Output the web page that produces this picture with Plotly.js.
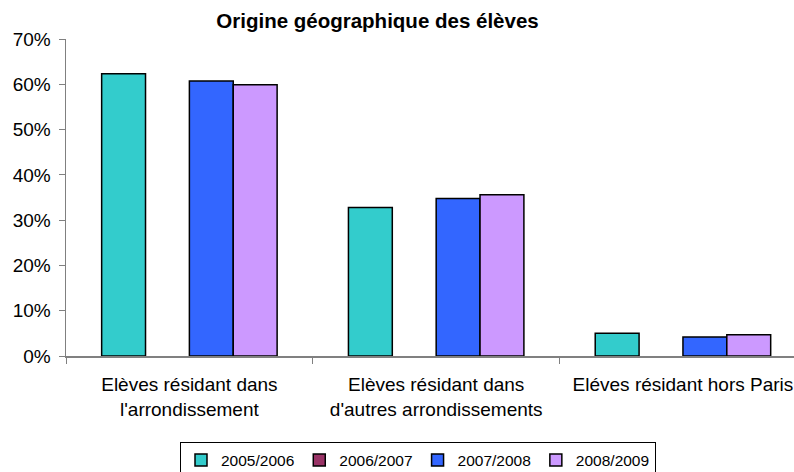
<!DOCTYPE html>
<html><head><meta charset="utf-8">
<script src="https://cdn.plot.ly/plotly-3.0.1.min.js"></script>
<style>html,body{margin:0;padding:0;background:#fff}#chart{width:794px;height:472px}</style>
</head><body><div id="chart"></div>
<script>
const categories = ["Elèves résidant dans<br>l'arrondissement", "Elèves résidant dans<br>d'autres arrondissements", "Eléves résidant hors Paris"];
const seriesNames = ["2005/2006", "2006/2007", "2007/2008", "2008/2009"];
const s2005 = [0.623, 0.328, 0.050];
const s2006 = [null, null, null];
const s2007 = [0.607, 0.348, 0.042];
const s2008 = [0.599, 0.356, 0.047];
const colors = ["#33CCCC", "#993366", "#3366FF", "#CC99FF"];
const allSeries = [s2005, s2006, s2007, s2008];

const traces = allSeries.map((vals, i) => ({
  type: 'bar', name: seriesNames[i], x: categories, y: vals,
  marker: {color: colors[i], line: {color: '#000', width: 1.5}},
  hoverinfo: 'none'
}));

const plotTop = 39, plotBottom = 356.5, plotH = plotBottom - plotTop;
const layout = {
  width: 794, height: 472,
  margin: {l: 66, r: 0, t: plotTop, b: 472 - plotBottom, autoexpand: false},
  paper_bgcolor: '#fff', plot_bgcolor: '#fff',
  font: {family: 'Liberation Sans, Arial, sans-serif', size: 19, color: '#000'},
  title: {text: '<b>Origine géographique des élèves</b>', font: {size: 20.5, family: 'Liberation Sans, Arial, sans-serif'},
    x: 377.5 / 794, xanchor: 'center', xref: 'container', y: 1 - 21 / 472, yanchor: 'middle', yref: 'container'},
  barmode: 'group', bargap: 0.289, bargroupgap: 0,
  xaxis: {range: [-0.5, 2.45], showline: true, linecolor: '#808080', linewidth: 1.5,
    ticks: 'outside', tickson: 'boundaries', ticklen: 6, tickcolor: '#808080', tickwidth: 1,
    showgrid: false, zeroline: false, tickfont: {size: 19}, ticklabelstandoff: 11},
  yaxis: {range: [0, 0.7], dtick: 0.1, tickformat: '.0%', showline: true, linecolor: '#808080', linewidth: 1.5,
    ticks: 'outside', ticklen: 6, tickcolor: '#808080', tickwidth: 1, showgrid: false, zeroline: false,
    tickfont: {size: 19}, ticklabelstandoff: 4},
  showlegend: true,
  legend: {orientation: 'h', x: (180 - 66) / 728, xanchor: 'left', y: -(443 - plotBottom) / plotH, yanchor: 'top',
    bordercolor: '#000', borderwidth: 1, bgcolor: '#fff', font: {size: 15.5}, traceorder: 'normal'}
};
Plotly.newPlot('chart', traces, layout, {staticPlot: true});
</script></body></html>
